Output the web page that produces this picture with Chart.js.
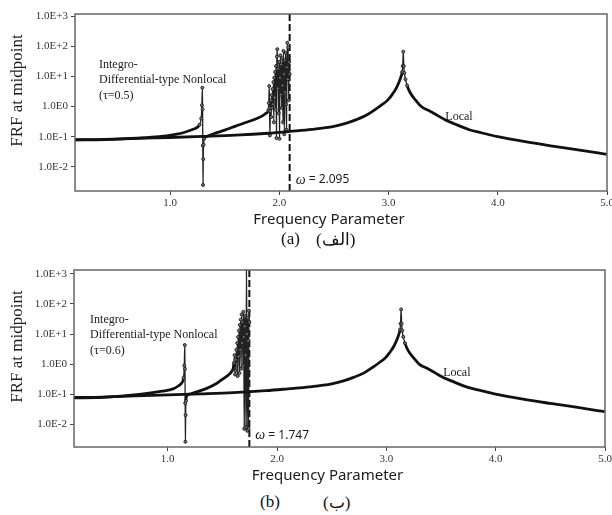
<!DOCTYPE html>
<html>
<head>
<meta charset="utf-8">
<script src="https://cdn.jsdelivr.net/npm/chart.js@4.4.1/dist/chart.umd.min.js"></script>
<style>
  html, body { margin: 0; padding: 0; background: #fff; width: 612px; height: 515px; overflow: hidden; }
  .panel { position: absolute; left: 0; width: 612px; height: 232px; }
  .cap { position: absolute; font-family: "Liberation Serif", "DejaVu Serif", serif; font-size: 17px; color: #111; white-space: nowrap; }
</style>
</head>
<body>
<div class="panel" style="top:0"><canvas id="frf_a" width="612" height="232"></canvas></div>
<div class="panel" style="top:256px"><canvas id="frf_b" width="612" height="232"></canvas></div>
<div class="cap" style="left:281px; top:229px">(a)</div>
<div class="cap" style="left:316px; top:229px">(الف)</div>
<div class="cap" style="left:260px; top:492px">(b)</div>
<div class="cap" style="left:323px; top:492px">(ب)</div>
<script>
//=============================================== DATA ========================================
// local beam, same curve in both panels
var freqLocal = [0.13, 0.4, 0.7, 1.0, 1.3, 1.6, 1.9, 2.1, 2.3, 2.5, 2.6, 2.7, 2.8, 2.88, 2.94, 2.99, 3.03, 3.07, 3.1, 3.115, 3.125, 3.13, 3.135, 3.14, 3.145, 3.155, 3.17, 3.2, 3.25, 3.3, 3.38, 3.45, 3.52, 3.6, 3.74, 3.85, 4.0, 4.25, 4.5, 4.75, 5.0];
var frfLocal  = [0.078, 0.08, 0.088, 0.094, 0.102, 0.112, 0.13, 0.15, 0.175, 0.22, 0.27, 0.36, 0.52, 0.8, 1.15, 1.6, 2.4, 4.0, 7.0, 10, 14, 22, 66, 22, 13, 8, 5.0, 2.8, 1.6, 1.0, 0.7, 0.5, 0.36, 0.27, 0.17, 0.135, 0.1, 0.068, 0.049, 0.036, 0.026];

// integro-differential nonlocal, tau = 0.5
var freqNonlocalA = [0.13, 0.4, 0.7, 0.9, 1.05, 1.12, 1.2, 1.245, 1.27, 1.285, 1.292, 1.296, 1.298, 1.3, 1.302, 1.304, 1.307, 1.312, 1.33, 1.4, 1.5, 1.6, 1.7, 1.8, 1.85, 1.88,
  1.9, 1.904, 1.908, 1.911, 1.914, 1.918, 1.922, 1.926, 1.93, 1.934, 1.938, 1.942, 1.946, 1.95, 1.954, 1.958, 1.962, 1.966, 1.97, 1.974, 1.978, 1.982, 1.986, 1.99, 1.994, 1.998,
  2.002, 2.006, 2.01, 2.014, 2.018, 2.022, 2.026, 2.03, 2.034, 2.038, 2.042, 2.046, 2.05, 2.054, 2.058, 2.062, 2.066, 2.07, 2.074, 2.078, 2.082, 2.086, 2.09, 2.095];
var frfNonlocalA  = [0.079, 0.082, 0.09, 0.1, 0.12, 0.135, 0.17, 0.2, 0.25, 0.4, 1.1, 4.2, 0.8, 0.05, 0.0025, 0.018, 0.055, 0.085, 0.1, 0.125, 0.165, 0.225, 0.3, 0.41, 0.5, 0.6,
  0.75, 1.3, 4.8, 0.9, 0.11, 0.7, 1.6, 0.45, 2.4, 0.9, 3.8, 1.2, 6.5, 0.3, 9, 2, 14, 0.8, 22, 0.09, 45, 80, 4, 18, 0.6, 30,
  0.085, 9, 50, 2.5, 25, 0.9, 40, 5, 0.3, 70, 12, 0.12, 35, 3, 60, 1.2, 0.17, 20, 130, 8, 90, 1.6, 30, 12];

// integro-differential nonlocal, tau = 0.6
var freqNonlocalB = [0.13, 0.4, 0.76, 0.95, 1.05, 1.1, 1.13, 1.145, 1.152, 1.156, 1.158, 1.16, 1.162, 1.164, 1.167, 1.172, 1.2, 1.25, 1.357, 1.45, 1.51, 1.56, 1.59,
  1.6, 1.606, 1.612, 1.616, 1.62, 1.624, 1.628, 1.632, 1.636, 1.64, 1.644, 1.648, 1.652, 1.656, 1.66, 1.664, 1.668, 1.672, 1.676, 1.68, 1.684, 1.688, 1.692, 1.696,
  1.7, 1.704, 1.708, 1.712, 1.716, 1.72, 1.724, 1.728, 1.732, 1.736, 1.74, 1.743, 1.747];
var frfNonlocalB  = [0.075, 0.078, 0.1, 0.125, 0.15, 0.19, 0.24, 0.35, 0.9, 4.3, 0.7, 0.05, 0.0026, 0.02, 0.06, 0.085, 0.1, 0.115, 0.155, 0.23, 0.33, 0.45, 0.6,
  0.75, 1.1, 2.0, 0.45, 1.4, 0.6, 3, 1, 5, 0.4, 8, 1.8, 13, 0.5, 20, 3, 30, 0.7, 45, 5, 25, 0.9, 55, 8,
  0.007, 18, 40, 2, 0.008, 1500, 10, 0.006, 35, 6, 0.007, 60, 25];

var xTicks = [1.0, 2.0, 3.0, 4.0, 5.0];
var yTicks = [0.01, 0.1, 1, 10, 100, 1000];

//=============================================== HELPERS ========================================
function toPoints(xs, ys) {
  var pts = [];
  for (var i = 0; i < xs.length; i++) pts.push({x: xs[i], y: ys[i]});
  return pts;
}

// a segment is steep when it runs almost vertically on screen
function steepPx(x0, y0, x1, y1) {
  var dx = Math.abs(x1 - x0), dy = Math.abs(y1 - y0);
  return dy > 5 && dy > 2.5 * dx;
}

function steepAround(chart, data, i) {
  var xs = chart.scales.x, ys = chart.scales.y;
  var px = xs.getPixelForValue(data[i].x), py = ys.getPixelForValue(data[i].y);
  var s = false;
  if (i > 0) s = s || steepPx(xs.getPixelForValue(data[i - 1].x), ys.getPixelForValue(data[i - 1].y), px, py);
  if (i < data.length - 1) s = s || steepPx(px, py, xs.getPixelForValue(data[i + 1].x), ys.getPixelForValue(data[i + 1].y));
  return s;
}

function expLabel(v) {
  var e = Math.round(Math.log10(v));
  if (e > 0) return '1.0E+' + e;
  return '1.0E' + e;
}

function curve(label, pts) {
  return {
    label: label,
    data: pts,
    borderColor: '#111',
    borderWidth: 2.8,
    cubicInterpolationMode: 'monotone',
    pointRadius: function (ctx) {
      if (ctx.dataIndex === undefined) return 0;
      return steepAround(ctx.chart, ctx.dataset.data, ctx.dataIndex) ? 1.5 : 0;
    },
    pointBackgroundColor: '#777',
    pointBorderColor: '#1a1a1a',
    pointBorderWidth: 0.9,
    segment: {
      borderWidth: function (ctx) {
        return steepPx(ctx.p0.x, ctx.p0.y, ctx.p1.x, ctx.p1.y) ? 1.3 : 2.8;
      },
      borderColor: function (ctx) {
        return steepPx(ctx.p0.x, ctx.p0.y, ctx.p1.x, ctx.p1.y) ? '#222' : '#111';
      }
    }
  };
}

// frame, axis titles and text notes
var frfNotes = {
  id: 'frfNotes',
  afterDraw: function (chart, args, o) {
    var ctx = chart.ctx, ca = chart.chartArea;
    var xs = chart.scales.x, ys = chart.scales.y;
    ctx.save();
    ctx.strokeStyle = '#666';
    ctx.lineWidth = 1.5;
    ctx.strokeRect(ca.left, ca.top, ca.right - ca.left, ca.bottom - ca.top);

    ctx.fillStyle = '#1a1a1a';
    // y title
    ctx.save();
    ctx.translate(18, (ca.top + ca.bottom) / 2 - 12);
    ctx.rotate(-Math.PI / 2);
    ctx.font = '17px "Liberation Serif"';
    ctx.textAlign = 'center';
    ctx.textBaseline = 'middle';
    ctx.fillText('FRF at midpoint', 0, 0);
    ctx.restore();

    // x title
    ctx.font = '15px "Noto Sans"';
    ctx.textAlign = 'center';
    ctx.textBaseline = 'middle';
    ctx.fillText('Frequency Parameter', (ca.left + ca.right) / 2 - 12, ca.bottom + 29);

    // nonlocal label
    ctx.font = '12px "Liberation Serif"';
    ctx.textAlign = 'left';
    var nx = xs.getPixelForValue(o.nonlocalAt[0]), ny = ys.getPixelForValue(o.nonlocalAt[1]);
    ctx.fillText('Integro-', nx, ny);
    ctx.fillText('Differential-type Nonlocal', nx, ny + 15);
    ctx.fillText('(\u03c4=' + o.tau + ')', nx, ny + 31);

    // local label
    ctx.fillText('Local', xs.getPixelForValue(o.localAt[0]), ys.getPixelForValue(o.localAt[1]));

    // omega label next to the dashed line
    var wx = xs.getPixelForValue(o.omega) + 6, wy = ys.getPixelForValue(o.omegaLabelY);
    ctx.font = 'italic 14px "Liberation Serif"';
    ctx.fillText('\u03c9', wx, wy);
    var w = ctx.measureText('\u03c9').width;
    ctx.font = '12px "Noto Sans"';
    ctx.fillText(' = ' + o.omega.toFixed(3), wx + w, wy);
    ctx.restore();
  }
};

function makeChart(id, nonPts, notes, yMin, yMax, xMin, yWidth, xHeight, padRight) {
  return new Chart(document.getElementById(id), {
    type: 'line',
    data: {
      datasets: [
        curve('Local', toPoints(freqLocal, frfLocal)),
        curve('Nonlocal', nonPts),
        {
          label: 'omega',
          data: [{x: notes.omega, y: yMin}, {x: notes.omega, y: yMax}],
          borderColor: '#111',
          borderWidth: 2,
          borderDash: [7, 3],
          pointRadius: 0
        }
      ]
    },
    options: {
      responsive: false,
      animation: false,
      layout: {padding: {top: 14, left: 0, right: padRight, bottom: 0}},
      plugins: {legend: {display: false}, tooltip: {enabled: false}, frfNotes: notes},
      scales: {
        x: {
          type: 'linear',
          min: xMin,
          max: 5.0,
          afterBuildTicks: function (s) { s.ticks = xTicks.map(function (v) { return {value: v}; }); },
          afterFit: function (s) { s.height = xHeight; s.paddingLeft = 0; s.paddingRight = 0; },
          ticks: {
            autoSkip: false,
            maxRotation: 0,
            padding: 2,
            color: '#333',
            font: {family: 'Liberation Serif', size: 11},
            callback: function (v) { return v.toFixed(1); }
          },
          grid: {drawOnChartArea: false, tickLength: 4, color: '#444'},
          border: {display: false}
        },
        y: {
          type: 'logarithmic',
          min: yMin,
          max: yMax,
          afterBuildTicks: function (s) { s.ticks = yTicks.map(function (v) { return {value: v}; }); },
          afterFit: function (s) { s.width = yWidth; },
          ticks: {
            autoSkip: false,
            padding: 3,
            color: '#333',
            font: {family: 'Liberation Serif', size: 11},
            callback: function (v) { return expLabel(v); }
          },
          grid: {drawOnChartArea: false, tickLength: 4, color: '#444'},
          border: {display: false}
        }
      }
    },
    plugins: [frfNotes]
  });
}

//=============================================== PANEL A ========================================
var frfA = makeChart('frf_a', toPoints(freqNonlocalA, frfNonlocalA), {
  omega: 2.095, omegaLabelY: 0.0037, tau: '0.5',
  nonlocalAt: [0.35, 25], localAt: [3.52, 0.47]
}, 0.00158, 1170, 0.13, 75, 41, 5);

//=============================================== PANEL B ========================================
var frfB = makeChart('frf_b', toPoints(freqNonlocalB, frfNonlocalB), {
  omega: 1.747, omegaLabelY: 0.0043, tau: '0.6',
  nonlocalAt: [0.29, 29], localAt: [3.52, 0.5]
}, 0.00174, 1350, 0.143, 74, 41, 7);
</script>
</body>
</html>
